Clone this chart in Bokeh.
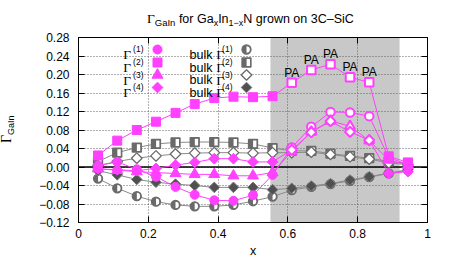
from math import pi
from bokeh.plotting import figure
from bokeh.layouts import column, row
from bokeh.models import (ColumnDataSource, Span, BoxAnnotation, Label, LabelSet, Div,
                          LinearAxis, FixedTicker, CustomJSTickFormatter, Range1d,
                          CDSView, BooleanFilter)
from bokeh.core.properties import value
from bokeh.transform import dodge
from bokeh.embed import file_html
from bokeh.resources import INLINE

# ---------------- data ----------------
x_comp = [0.056, 0.111, 0.167, 0.222, 0.278, 0.333, 0.389, 0.444, 0.500,
          0.556, 0.611, 0.667, 0.722, 0.778, 0.833, 0.889, 0.944]
gamma1 = [0.003, 0.011, -0.005, -0.021, -0.043, -0.060, -0.072, -0.073, -0.061,
          -0.017, 0.042, 0.087, 0.119, 0.118, 0.110, 0.020, 0.006]
gamma2 = [0.025, 0.057, 0.080, 0.098, 0.117, 0.136, 0.149, 0.152, 0.151,
          0.153, 0.182, 0.210, 0.222, 0.194, 0.183, 0.023, 0.010]
gamma3 = [-0.004, -0.007, -0.010, -0.012, -0.014, -0.016, -0.016, -0.019, -0.019,
          -0.012, 0.033, 0.076, 0.100, 0.088, 0.057, 0.015, 0.004]
gamma4 = [-0.004, -0.006, -0.008, -0.003, 0.004, 0.010, 0.018, 0.018, 0.011,
          0.011, 0.037, 0.075, 0.099, 0.076, 0.058, -0.014, -0.010]
bulk1 = [-0.025, -0.046, -0.063, -0.075, -0.082, -0.085, -0.085, -0.082, -0.074,
         -0.064, -0.050, -0.043, -0.037, -0.030, -0.022, -0.014, -0.007]
bulk2 = [0.012, 0.031, 0.042, 0.050, 0.053, 0.054, 0.054, 0.053, 0.050,
         0.041, 0.035, 0.035, 0.029, 0.024, 0.019, 0.012, 0.008]
bulk3 = [0.003, 0.012, 0.019, 0.024, 0.028, 0.030, 0.031, 0.031, 0.030,
         0.031, 0.031, 0.032, 0.027, 0.022, 0.017, 0.009, 0.005]
bulk4 = [-0.008, -0.017, -0.027, -0.033, -0.037, -0.040, -0.044, -0.044, -0.044,
         -0.049, -0.046, -0.041, -0.036, -0.028, -0.021, -0.013, -0.006]
pa_point = [0, 0, 0, 0, 0, 0, 0, 0, 0, 0, 1, 1, 1, 1, 1, 0, 0]
pa_text = "PA"
pa_region = [0.55, 0.92]
x_ticks = [0, 0.2, 0.4, 0.6, 0.8, 1.0]
x_grid = [0.2, 0.4, 0.6, 0.8]
y_ticks = [-0.12, -0.08, -0.04, 0.0, 0.04, 0.08, 0.12, 0.16, 0.20, 0.24, 0.28]
legend_sup = ["(1)", "(2)", "(3)", "(4)"]
title_parts = ["\u0393", "GaIn", " for Ga", "x", "In", "1\u2212x", "N grown on 3C\u2013SiC"]
ylabel_parts = ["\u0393", "GaIn"]
xlabel = "x"

# ---------------- styles / layout ----------------
MAG = "#ff40ff"
GLINE = "#8a8a8a"
GRAY = "#6a6a6a"
DARK = "#505050"
SANS = "Liberation Sans"
SERIF = "Liberation Serif"

TOTAL_W, TOTAL_H = 450, 262
TITLE_H = 30
YLAB_W = 22
FW, FH = 349, 185
X0, X1 = 0.0, 1.0
LEG_COL_X = [79, 168]          # legend key columns, px from frame left
LEG_ROW_Y = [12, 25, 37.5, 50]  # legend key rows, px from frame top

p = figure(width=TOTAL_W - YLAB_W, height=TOTAL_H - TITLE_H, x_range=(X0, X1), y_range=(-0.12, 0.28),
           output_backend="svg", toolbar_location=None,
           min_border_left=78 - YLAB_W, min_border_right=23, min_border_top=37 - TITLE_H,
           min_border_bottom=40, margin=0)
p.outline_line_color = "black"
p.outline_line_width = 1
p.background_fill_color = "white"
p.border_fill_color = "white"
p.extra_x_ranges = {"px": Range1d(0, FW)}
p.extra_y_ranges = {"px": Range1d(FH, 0)}

empty_fmt = CustomJSTickFormatter(code="return '';")
for place, ticks in (("above", x_ticks), ("right", y_ticks)):
    ax = LinearAxis(ticker=FixedTicker(ticks=ticks), formatter=empty_fmt)
    ax.major_label_text_font_size = "0px"
    ax.major_label_standoff = 0
    p.add_layout(ax, place)

xb = p.below[0]
yl = p.left[0]
xb.ticker = FixedTicker(ticks=x_ticks)
yl.ticker = FixedTicker(ticks=y_ticks)
xb.formatter = CustomJSTickFormatter(code="return (Math.round(tick*10)/10).toString();")
yl.formatter = CustomJSTickFormatter(
    code="const v = Math.abs(tick) < 1e-9 ? 0 : tick; return (v < 0 ? '\u2212' : '') + Math.abs(v).toFixed(2);")
for ax in list(p.xaxis) + list(p.yaxis):
    ax.major_tick_in = 6
    ax.major_tick_out = 0
    ax.minor_tick_in = 0
    ax.minor_tick_out = 0
    ax.axis_line_color = "black"
    ax.major_tick_line_color = "black"
    ax.major_label_text_font = SANS
    ax.major_label_text_color = "black"
for ax in (xb, yl):
    ax.major_label_text_font_size = "12px"
xb.major_label_standoff = 6
yl.major_label_standoff = 9
xb.axis_label = xlabel
xb.axis_label_text_font = SANS
xb.axis_label_text_font_size = "12.5px"
xb.axis_label_text_font_style = "normal"
xb.axis_label_text_color = "black"
xb.axis_label_standoff = 3

p.xgrid.ticker = FixedTicker(ticks=x_grid)
p.ygrid.ticker = FixedTicker(ticks=y_ticks)
for g in (p.xgrid, p.ygrid):
    g.grid_line_color = "#606060"
    g.grid_line_dash = "1 2"
    g.grid_line_width = 1

p.add_layout(BoxAnnotation(left=pa_region[0], right=pa_region[1], fill_color="#c8c8c8",
                           fill_alpha=1, line_color=None, level="image"))
p.add_layout(Span(location=0, dimension="width", line_color="black", line_width=1.5, level="underlay"))

src = ColumnDataSource(dict(x=x_comp, g1=gamma1, g2=gamma2, g3=gamma3, g4=gamma4,
                            b1=bulk1, b2=bulk2, b3=bulk3, b4=bulk4))
v_fill = CDSView(filter=BooleanFilter([f == 0 for f in pa_point]))
v_open = CDSView(filter=BooleanFilter([f == 1 for f in pa_point]))

leg_mag = ColumnDataSource(dict(x=[LEG_COL_X[0]] * 4, y=LEG_ROW_Y))
leg_blk = ColumnDataSource(dict(x=[LEG_COL_X[1]] * 4, y=LEG_ROW_Y))
lk = dict(x_range_name="px", y_range_name="px")


def half_circle(xf, yf, source, view=None, **kw):
    extra = {} if view is None else {"view": view}
    p.scatter(xf, yf, source=source, marker="circle", size=9, fill_color=GRAY, line_color=None, **extra, **kw)
    p.wedge(xf, yf, source=source, radius=3.3, radius_units="screen", start_angle=-pi/2,
            end_angle=pi/2, fill_color="white", line_color=None, **extra, **kw)
    p.scatter(xf, yf, source=source, marker="circle", size=9, fill_color=None,
              line_color=GRAY, line_width=1.3, **extra, **kw)


def half_square(xf, yf, source, dx, view=None, **kw):
    extra = {} if view is None else {"view": view}
    p.scatter(xf, yf, source=source, marker="square", size=9, fill_color=GRAY, line_color=None, **extra, **kw)
    p.rect(dodge(xf, dx), yf, source=source, width=3.4, height=6.8, width_units="screen",
           height_units="screen", fill_color="white", line_color=None, **extra, **kw)
    p.scatter(xf, yf, source=source, marker="square", size=9, fill_color=None,
              line_color=GRAY, line_width=1.3, **extra, **kw)


# ---- bulk (gray) series ----
for col in ("b1", "b2", "b3", "b4"):
    p.line("x", col, source=src, line_color=GLINE, line_width=1)

half_circle("x", "b1", src)
half_square("x", "b2", src, 1.8 * (X1 - X0) / FW)
p.scatter("x", "b3", source=src, marker="square", angle=pi/4, size=7.5,
          fill_color="white", line_color=GRAY, line_width=1.3)
p.scatter("x", "b4", source=src, marker="square", angle=pi/4, size=7.5,
          fill_color=DARK, line_color="#7a7a7a", line_width=1.0)

# ---- magenta series ----
for col in ("g1", "g2", "g3", "g4"):
    p.line("x", col, source=src, line_color=MAG, line_width=1)

mk = {"g1": dict(marker="circle", size=9, angle=0.0, osize=8.5),
      "g2": dict(marker="square", size=9, angle=0.0, osize=8.5),
      "g3": dict(marker="triangle", size=11, angle=0.0, osize=10),
      "g4": dict(marker="square", size=7.6, angle=pi/4, osize=7.2)}
for col in ("g1", "g2", "g3", "g4"):
    m = mk[col]
    p.scatter("x", col, source=src, view=v_fill, marker=m["marker"], size=m["size"],
              angle=m["angle"], fill_color=MAG, line_color=MAG, line_width=1)
    p.scatter("x", col, source=src, view=v_open, marker=m["marker"], size=m["osize"],
              angle=m["angle"], fill_color="white", line_color=MAG, line_width=2)

# ---- PA labels ----
pa_src = ColumnDataSource(dict(
    x=[xv for xv, f in zip(x_comp, pa_point) if f],
    y=[yv for yv, f in zip(gamma2, pa_point) if f],
    t=[pa_text for f in pa_point if f]))
p.add_layout(LabelSet(x="x", y="y", text="t", source=pa_src, text_align="center",
                      text_baseline="alphabetic", y_offset=6, text_font=value(SANS),
                      text_font_size="12px", text_color="black"))

# ---- legend keys ----
for i, col in enumerate(("g1", "g2", "g3", "g4")):
    m = mk[col]
    vi = CDSView(filter=BooleanFilter([j == i for j in range(4)]))
    p.scatter("x", "y", source=leg_mag, view=vi, marker=m["marker"], size=m["size"],
              angle=m["angle"], fill_color=MAG, line_color=MAG, line_width=1, **lk)

vb = [CDSView(filter=BooleanFilter([j == i for j in range(4)])) for i in range(4)]
half_circle("x", "y", leg_blk, view=vb[0], **lk)
half_square("x", "y", leg_blk, 1.8, view=vb[1], **lk)
p.scatter("x", "y", source=leg_blk, view=vb[2], marker="square", angle=pi/4, size=7.5,
          fill_color="white", line_color=GRAY, line_width=1.3, **lk)
p.scatter("x", "y", source=leg_blk, view=vb[3], marker="square", angle=pi/4, size=7.5,
          fill_color=DARK, line_color="#7a7a7a", line_width=1.0, **lk)


def add_text(txt, x, y, size, font=SANS, align="left"):
    p.add_layout(Label(x=x, y=y, x_units="screen", y_units="screen", text=txt,
                       text_font=font, text_font_size=size, text_align=align,
                       text_baseline="alphabetic", text_color="black"))


for i, sup in enumerate(legend_sup):
    yb = FH - (LEG_ROW_Y[i] + 5)
    ys = FH - (LEG_ROW_Y[i] - 0.5)
    add_text("\u0393", LEG_COL_X[0] - 26.5, yb, "13.5px", font=SERIF, align="right")
    add_text(sup, LEG_COL_X[0] - 14, ys, "8.5px", align="right")
    add_text("bulk", LEG_COL_X[1] - 34, yb, "12.5px", align="right")
    add_text("\u0393", LEG_COL_X[1] - 22.5, yb, "13.5px", font=SERIF, align="right")
    add_text(sup, LEG_COL_X[1] - 14, ys, "8.5px", align="right")

# ---- title and y label (HTML, so sub-scripts stay real text) ----
SUB = "font-family:'Liberation Sans';position:relative;top:2.5px;font-size:{}px;"
title_html = (
    "<div style=\"white-space:nowrap;font-family:'Liberation Sans';font-size:12.5px;"
    "line-height:15px;padding-left:147px;padding-top:11px;color:black;\">"
    f"<span style=\"font-family:'Liberation Serif';font-size:13.5px;\">{title_parts[0]}</span>"
    f"<span style=\"{SUB.format(9.5)}\">{title_parts[1]}</span>{title_parts[2]}"
    f"<span style=\"{SUB.format(9)}\">{title_parts[3]}</span>{title_parts[4]}"
    f"<span style=\"{SUB.format(9)}\">{title_parts[5]}</span>{title_parts[6]}</div>")
ylab_html = (
    "<div style=\"display:block;width:200px;white-space:nowrap;font-family:'Liberation Serif';"
    "font-size:14px;line-height:16px;color:black;transform-origin:0 0;"
    "transform:translate(-1px,113px) rotate(-90deg);\">"
    f"{ylabel_parts[0]}<span style=\"{SUB.format(9)}\">{ylabel_parts[1]}</span></div>")

title_div = Div(text=title_html, width=TOTAL_W, height=TITLE_H, margin=0)
ylab_div = Div(text=ylab_html, width=YLAB_W, height=TOTAL_H - TITLE_H, margin=0)

layout = column(title_div, row(ylab_div, p, spacing=0), spacing=0)

open("out.html", "w").write(file_html(layout, INLINE))
